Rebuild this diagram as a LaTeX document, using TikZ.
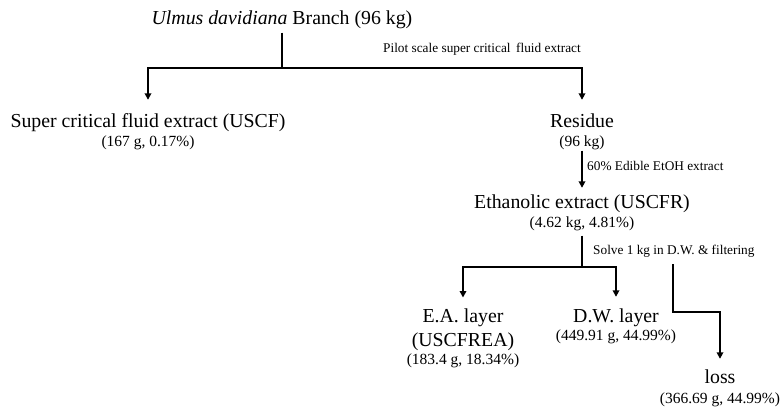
\documentclass[tikz,border=0pt]{standalone}
\usepackage{fontspec}
\setmainfont{Liberation Serif}
\usetikzlibrary{
  arrows.meta,
  positioning,
}
\tikzset{
  >={Triangle[length=6.5pt,width=6.5pt]},
}

\begin{document}
\begin{tikzpicture}[x=1pt,y=-1pt,node distance=4pt and 0pt,
    big/.style={inner sep=0pt,font=\fontsize{19.8}{24}\selectfont,text height=14.5pt,text depth=4.5pt},
    bigml/.style={inner sep=0pt,font=\fontsize{19.8}{24}\selectfont,align=center},
    amt/.style={inner sep=0pt,font=\fontsize{15.5}{18}\selectfont,text height=11pt,text depth=3.5pt},
    steplbl/.style={inner sep=0pt,font=\fontsize{13.3}{16}\selectfont},
    link/.style={line width=2pt},
    arr/.style={link,->,shorten >=11pt}]
  \useasboundingbox (0,0) rectangle (782,408);

  \node[big,anchor=base]    (branch)    at (282,24)     {\textit{Ulmus davidiana} Branch (96 kg)};
  \node[big,anchor=base]    (uscf)      at (148,127)    {Super critical fluid extract (USCF)};
  \node[amt]                (uscfamt)   [below=of uscf]       {(167 g, 0.17\%)};
  \node[big,anchor=base]    (residue)   at (582,127)    {Residue};
  \node[amt]                (residueamt) [below=of residue]   {(96 kg)};
  \node[big,anchor=base]    (ethanol)   at (582,208)    {Ethanolic extract (USCFR)};
  \node[amt]                (ethanolamt) [below=3.5pt of ethanol] {(4.62 kg, 4.81\%)};
  \node[bigml,anchor=north] (ea)        at (463,308.5)  {E.A. layer\\(USCFREA)};
  \node[amt]                (eaamt)     [below=2.5pt of ea]   {(183.4 g, 18.34\%)};
  \node[big,anchor=base]    (dw)        at (616,322)    {D.W. layer};
  \node[amt]                (dwamt)     [below=2.5pt of dw]   {(449.91 g, 44.99\%)};
  \node[big,anchor=base]    (loss)      at (720,383)    {loss};
  \node[amt]                (lossamt)   [below=4.5pt of loss] {(366.69 g, 44.99\%)};

  \node[steplbl,anchor=base west] (scflbl)    at (383,52)    {Pilot scale super critical\, fluid extract};
  \node[steplbl,anchor=base west] (etohlbl)   at (587,170.7) {60\% Edible EtOH extract};
  \node[steplbl,anchor=base west] (solvelbl)  at (593,254)   {Solve 1 kg in D.W. \& filtering};

  \coordinate (split1) at (282,68);
  \coordinate (split2) at (582,267);
  \coordinate (lossstart) at (673,264);
  \coordinate (lossbend) at (673,312);

  \draw[link,shorten <=4pt] (branch.south) -- (split1);
  \draw[arr,shorten >=12.5pt] (split1) -| (uscf.north);
  \draw[arr,shorten >=12.5pt] (split1) -| (residue.north);
  \draw[arr,shorten >=5.5pt] (residueamt.south) -- (ethanol.north);
  \draw[link,shorten <=4.5pt] (ethanolamt.south) -- (split2);
  \draw[arr] (split2) -| (ea.north);
  \draw[arr,shorten >=10.5pt] (split2) -| (dw.north);
  \draw[arr,shorten >=9.5pt] (lossstart) -- (lossbend) -| (loss.north);
\end{tikzpicture}
\end{document}
